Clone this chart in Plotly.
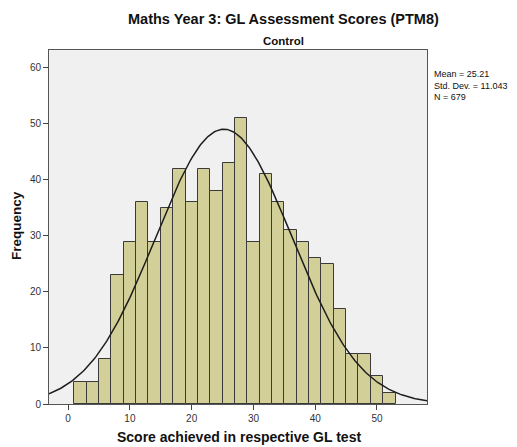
import numpy as np
import plotly.graph_objects as go

# Data
bin_start = 1
bin_width = 2
counts = [4, 4, 8, 23, 29, 36, 29, 35, 42, 36, 42, 38, 43, 51, 29, 41, 36, 31,
          29, 26, 25, 17, 9, 9, 5, 2]
MEAN = 25.21
SD = 11.043
N = 679
x_ticks = [0, 10, 20, 30, 40, 50]
y_ticks = [0, 10, 20, 30, 40, 50, 60]

centers = [bin_start + bin_width * (i + 0.5) for i in range(len(counts))]

x_range = [-3.1, 58.1]
y_range = [0, 63.2]

# Fitted normal curve (scaled to histogram counts)
xs = np.linspace(x_range[0], x_range[1], 300)
ys = N * bin_width / (SD * np.sqrt(2 * np.pi)) * np.exp(-0.5 * ((xs - MEAN) / SD) ** 2)

FONT = "Arial, Liberation Sans, sans-serif"
W, H = 517, 447
ML, MR, MT, MB = 49, 90, 50, 43

fig = go.Figure()
fig.add_trace(go.Bar(
    x=centers, y=counts, width=bin_width,
    marker=dict(color="#D3CF99", line=dict(color="#3a3a3a", width=1)),
    hoverinfo="x+y", showlegend=False,
))
fig.add_trace(go.Scatter(
    x=xs, y=ys, mode="lines",
    line=dict(color="#1e1e1e", width=1.5),
    showlegend=False, hoverinfo="skip",
))

axis_common = dict(
    ticks="outside", ticklen=5, tickcolor="#444",
    showgrid=False, zeroline=False,
    showline=True, linecolor="#555", linewidth=1, mirror=True,
    tickfont=dict(size=10, color="#333", family=FONT),
    automargin=False,
)

fig.update_layout(
    width=W, height=H,
    margin=dict(l=ML, r=MR, t=MT, b=MB, autoexpand=False),
    paper_bgcolor="white",
    plot_bgcolor="#F0F0F0",
    bargap=0,
    font=dict(family=FONT, color="#222"),
    xaxis=dict(range=x_range, tickvals=x_ticks, **axis_common),
    yaxis=dict(range=y_range, tickvals=y_ticks, **axis_common),
)

pw = W - ML - MR
ph = H - MT - MB


def px(xp):
    return (xp - ML) / pw


def py(yp):
    return 1 - (yp - MT) / ph


def label(text, x, y, size, **kw):
    opts = dict(xanchor="center", yanchor="middle")
    opts.update(kw)
    fig.add_annotation(text=text, x=px(x), y=py(y), xref="paper", yref="paper",
                       showarrow=False, font=dict(size=size, color="#111", family=FONT),
                       **opts)


label("<b>Maths Year 3: GL Assessment Scores (PTM8)</b>", 283, 19, 14.5)
label("<b>Control</b>", 283, 41, 11.5)
label(f"Mean = {MEAN}<br>Std. Dev. = {SD:.3f}<br>N = {N}", 432, 67, 9,
      xanchor="left", yanchor="top", align="left")
label("<b>Score achieved in respective GL test</b>", 239, 437, 14)
label("<b>Frequency</b>", 16, 226, 13.5, textangle=-90)

fig.write_html("out.html", config={"displayModeBar": False},
               post_script="document.body.style.margin='0';")
